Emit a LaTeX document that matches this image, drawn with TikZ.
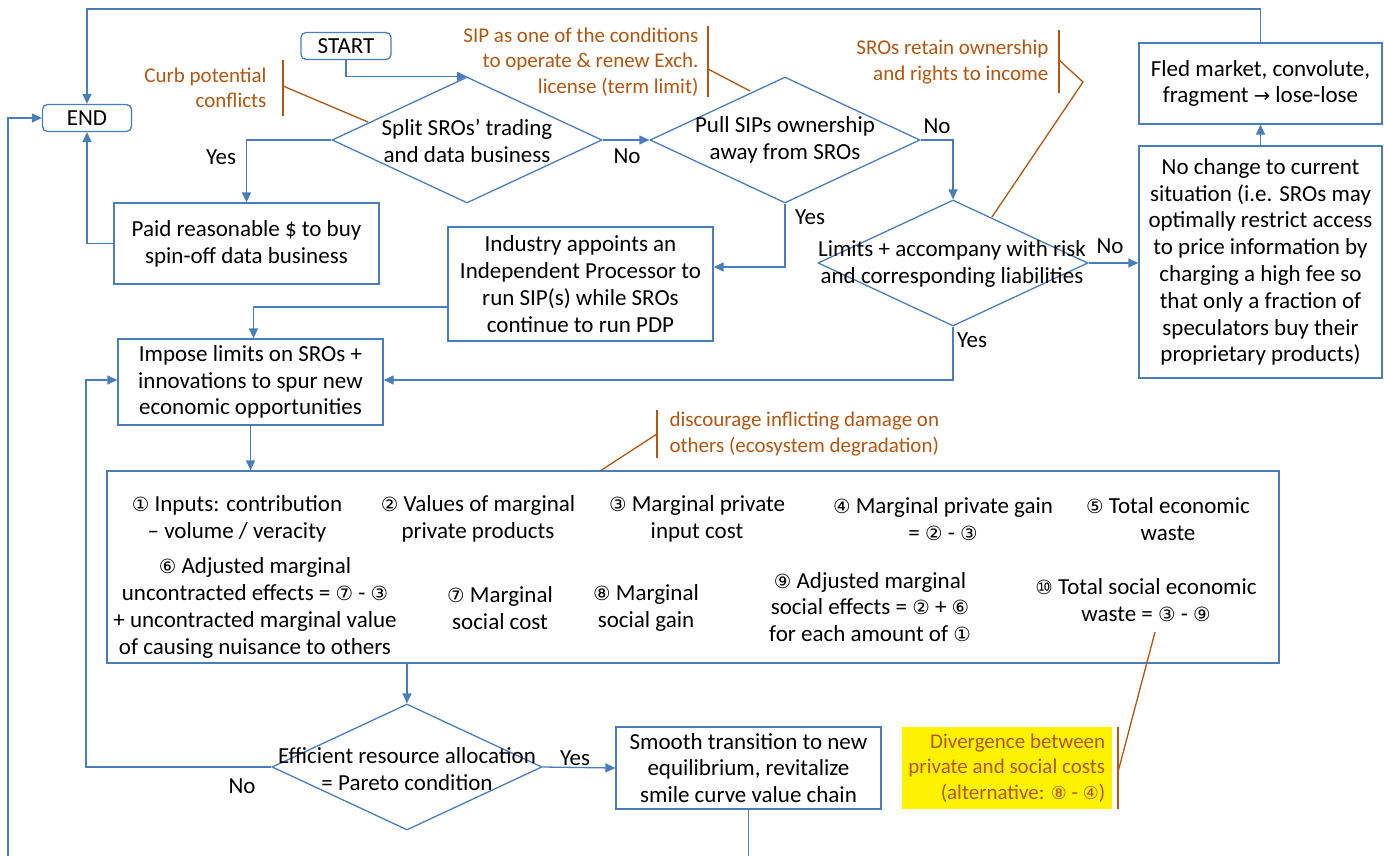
\documentclass[tikz,border=0pt]{standalone}
\usepackage{fontspec}
\setmainfont{Carlito}
\newfontfamily\symf{DejaVu Sans}[Scale=0.85]
\newcommand\cn[1]{{\symf #1}}
\usetikzlibrary{shapes.geometric,arrows.meta}
\definecolor{fblue}{RGB}{74,126,187}
\definecolor{anno}{RGB}{178,86,18}
\tikzset{
  base/.style={font=\fontsize{23}{26.8}\selectfont},
  box/.style={base,draw=fblue,line width=1.3pt,align=center,inner sep=0pt},
  term/.style={box,rounded corners=5pt},
  dia/.style={draw=fblue,line width=1.3pt,diamond,inner sep=0pt,minimum width=270pt,minimum height=126pt},
  dtext/.style={base,align=center},
  arr/.style={draw=fblue,line width=1.3pt,-{Triangle[length=10pt,width=9pt]}},
  con/.style={draw=fblue,line width=1.3pt},
  lab/.style={base},
  note/.style={font=\fontsize{21}{25.5}\selectfont,text=anno},
  nline/.style={draw=anno,line width=1.3pt},
  item/.style={base,align=center}
}
\begin{document}
\begin{tikzpicture}[x=1pt,y=-1pt]
\useasboundingbox (0,0) rectangle (1384,856);
\fill[white] (0,0) rectangle (1384,856);

% terminals
\node[term,minimum width=89pt,minimum height=27pt] (end) at (87,118) {END};
\node[term,minimum width=90pt,minimum height=27pt] (start) at (346,46) {START};

% diamonds
\node[dia] (d1) at (467,140) {};
\node[dtext] (d1t) at (467,141) {Split SROs’ trading\\and data business};
\node[dia] (d2) at (785,140) {};
\node[dtext] (d2t) at (785,140) {Pull SIPs ownership\\away from SROs};
\node[dia] (d3) at (953,263) {};
\node[dtext] (d3t) at (952,264) {Limits + accompany with risk\\and corresponding liabilities};
\node[dia] (d4) at (407,767) {};
\node[dtext] (d4t) at (407,769) {Efficient resource allocation\\= Pareto condition};

% boxes
\node[box,minimum width=265pt,minimum height=81pt] (paid) at (246.5,243.5) {Paid reasonable \$ to buy\\spin-off data business};
\node[box,minimum width=265pt,minimum height=114pt] (ind) at (580.5,284) {Industry appoints an\\Independent Processor to\\run SIP(s) while SROs\\continue to run PDP};
\node[box,minimum width=265pt,minimum height=86pt] (imp) at (250.5,382) {Impose limits on SROs +\\innovations to spur new\\economic opportunities};
\node[box,minimum width=243pt,minimum height=232pt] (nob) at (1260.5,262) {No change to current\\situation (i.e. SROs may\\optimally restrict access\\to price information by\\charging a high fee so\\that only a fraction of\\speculators buy their\\proprietary products)};
\node[box,minimum width=243pt,minimum height=81pt] (fled) at (1260.5,83.5) {Fled market, convolute,\\fragment {\symf →} lose-lose};
\node[box,minimum width=265pt,minimum height=82pt] (smooth) at (748.5,768) {Smooth transition to new\\equilibrium, revitalize\\smile curve value chain};
\node[box,minimum width=1172pt,minimum height=192pt] (big) at (693,567) {};

% items in big box
\node[item] (i1) at (237,519) {\cn{①} Inputs: contribution\\– volume / veracity};
\node[item] (i2) at (478,519) {\cn{②} Values of marginal\\private products};
\node[item] (i3) at (697,519) {\cn{③} Marginal private\\input cost};
\node[item] (i4) at (943,519) {\cn{④} Marginal private gain\\= \cn{②} - \cn{③}};
\node[item] (i5) at (1168,519) {\cn{⑤} Total economic\\waste};
\node[item] (i6) at (255,608) {\cn{⑥} Adjusted marginal\\uncontracted effects = \cn{⑦} - \cn{③}\\+ uncontracted marginal value\\of causing nuisance to others};
\node[item] (i7) at (500,608) {\cn{⑦} Marginal\\social cost};
\node[item] (i8) at (646,608) {\cn{⑧} Marginal\\social gain};
\node[item] (i9) at (870,607) {\cn{⑨} Adjusted marginal\\social effects = \cn{②} + \cn{⑥}\\for each amount of \cn{①}};
\node[item] (i10) at (1146,600) {\cn{⑩} Total social economic\\waste = \cn{③} - \cn{⑨}};

% annotations
\node[note,anchor=east,align=right] (n1) at (270,88) {Curb potential\\conflicts};
\node[note,anchor=east,align=right] (n2) at (702,62) {SIP as one of the conditions\\to operate \& renew Exch.\\license (term limit)};
\node[note,anchor=east,align=right] (n3) at (1052,62) {SROs retain ownership\\and rights to income};
\node[note,anchor=west,align=left] (n4) at (666,434) {discourage inflicting damage on\\others (ecosystem degradation)};
\node[note,anchor=east,align=right,fill=yellow,minimum width=210pt,minimum height=82pt,inner sep=2pt] (n5) at (1112,768) {Divergence between\\private and social costs\\(alternative: \cn{⑧} - \cn{④})};

% annotation brackets
\draw[nline] (283,60) -- (283,116);
\draw[nline] (283,86) -- (368,122);
\draw[nline] (708,26) -- (708,97);
\draw[nline] (708,69) -- (750,91);
\draw[nline] (1059,30) -- (1059,93);
\draw[nline] (1059,60) -- (1083,82) -- (992,217);
\draw[nline] (657,410) -- (657,458);
\draw[nline] (657,434) -- (600,471);
\draw[nline] (1118,727) -- (1118,809);
\draw[nline] (1118,772) -- (1155,632);

% coordinates
\coordinate (top) at (1260.5,9);
\coordinate (lb) at (8,856);
\coordinate (nol) at (86,767);
\coordinate (sb) at (748.5,856);

% connectors
\draw[arr] (start.south) |- (d1.north);
\draw[arr] (d1.east) -- (d2.west);
\draw[arr] (d2.east) -| (d3.north);
\draw[arr] (d3.east) -- (d3.east -| nob.west);
\draw[arr] (nob.north) -- (fled.south);
\draw[arr] (fled.north) -- (top) -| (end.north);
\draw[arr] (d1.west) -| (paid.north);
\draw[arr] (paid.west) -| (end.south);
\draw[arr] (lb) |- (end.west);
\draw[arr] (d2.south) |- ([yshift=17pt]ind.east);
\draw[arr] ([yshift=-23pt]ind.west) -| ([xshift=3pt]imp.north);
\draw[arr] (d3.south) |- ([yshift=2pt]imp.east);
\draw[arr] (d4.west) -- (nol) |- ([yshift=2pt]imp.west);
\draw[arr] (imp.south) -- (imp.south |- big.north);
\draw[arr] (d4.north |- big.south) -- (d4.north);
\draw[arr] (d4.east) -- (smooth.west);
\draw[con] (smooth.south) -- (sb);

% labels
\node[lab] (l1) at (221,157) {Yes};
\node[lab] (l2) at (627,156) {No};
\node[lab] (l3) at (937,126) {No};
\node[lab] (l4) at (810,217) {Yes};
\node[lab] (l5) at (1110,246) {No};
\node[lab] (l6) at (972,340) {Yes};
\node[lab] (l7) at (242,786) {No};
\node[lab] (l8) at (575,758) {Yes};
\end{tikzpicture}
\end{document}
